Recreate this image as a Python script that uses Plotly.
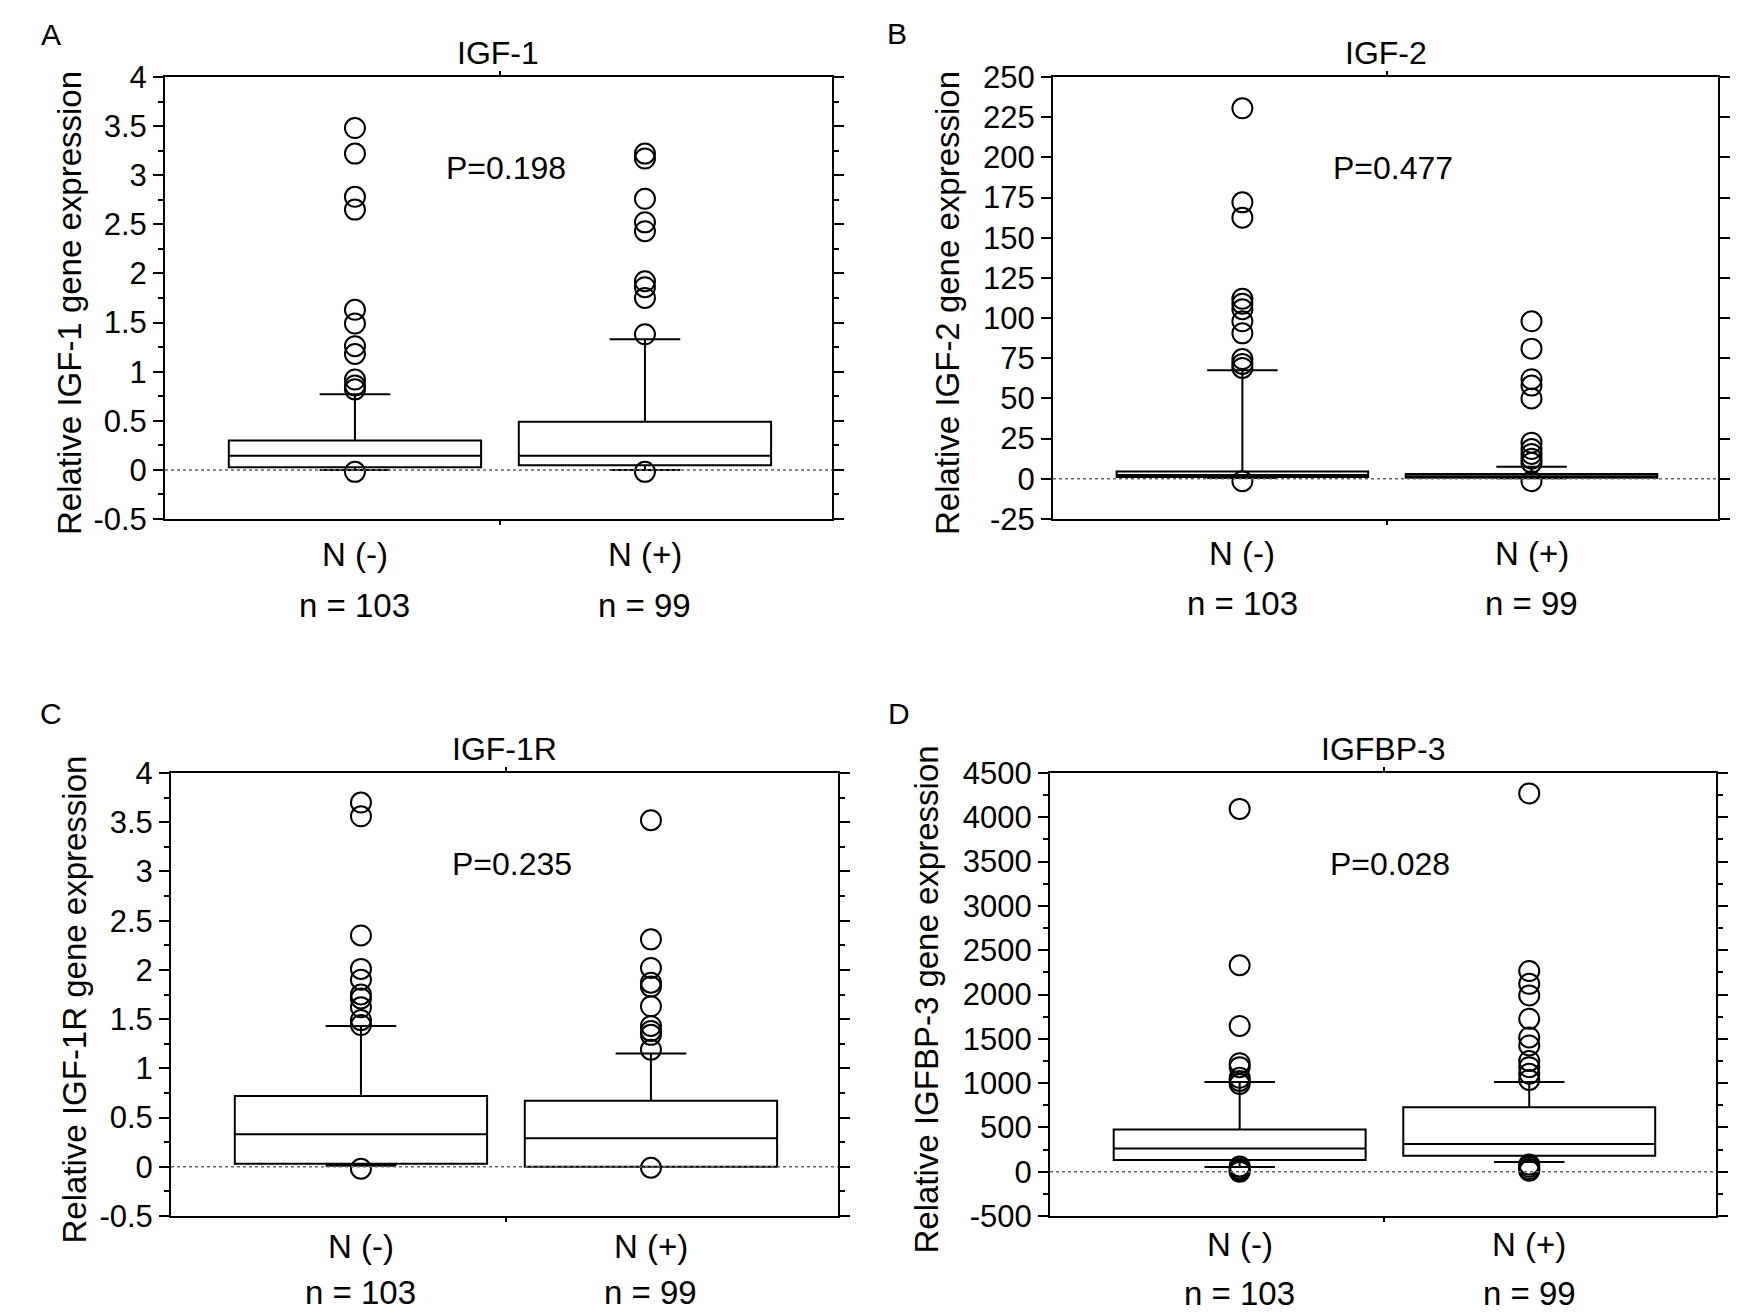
import plotly.graph_objects as go
from plotly.subplots import make_subplots

W, H = 1748, 1313
FONT = "Liberation Sans, Arial, sans-serif"

groups = ["N (-)", "N (+)"]
group_sizes = [103, 99]
p_values = ["P=0.198", "P=0.477", "P=0.235", "P=0.028"]

# box stats per group: lower whisker, Q1, median, Q3, upper whisker
igf1_neg = [0.0, 0.027, 0.144, 0.30, 0.77]
igf1_pos = [0.0, 0.047, 0.144, 0.49, 1.33]
igf1_neg_out = [3.48, 3.22, 2.78, 2.65, 1.63, 1.49, 1.26, 1.18, 0.92, 0.86, 0.82, -0.02]
igf1_pos_out = [3.22, 3.17, 2.76, 2.52, 2.43, 1.92, 1.86, 1.75, 1.38, -0.02]

igf2_neg = [0.5, 1.2, 2.4, 4.6, 67.5]
igf2_pos = [0.3, 0.7, 1.6, 3.0, 7.5]
igf2_neg_out = [230.5, 172.0, 162.5, 112.0, 109.0, 105.5, 98.0, 90.5, 74.5, 71.5, 69.0, -1.5]
igf2_pos_out = [98.0, 81.0, 62.0, 58.0, 50.0, 22.5, 18.5, 15.5, 12.5, 10.0, -1.5]

igf1r_neg = [0.01, 0.03, 0.33, 0.72, 1.43]
igf1r_pos = [0.0, 0.0, 0.29, 0.67, 1.15]
igf1r_neg_out = [3.70, 3.56, 2.35, 2.01, 1.90, 1.75, 1.71, 1.62, 1.49, 1.44, -0.02]
igf1r_pos_out = [3.52, 2.31, 2.02, 1.87, 1.83, 1.63, 1.43, 1.38, 1.34, 1.19, -0.01]

igfbp3_neg = [52, 133, 262, 476, 1013]
igfbp3_pos = [109, 181, 314, 728, 1013]
igfbp3_neg_out = [4095, 2330, 1645, 1225, 1180, 1060, 1025, 990, 60, 35, 15, 0]
igfbp3_pos_out = [4270, 2265, 2120, 1990, 1725, 1515, 1425, 1250, 1180, 1105, 1035,
                  80, 55, 30, 10]

panels = [
    dict(letter="A", title="IGF-1", ytitle="Relative IGF-1 gene expression",
         stats=[igf1_neg, igf1_pos], out=[igf1_neg_out, igf1_pos_out],
         yrange=[-0.5, 4], dtick=0.5, minor=0.25),
    dict(letter="B", title="IGF-2", ytitle="Relative IGF-2 gene expression",
         stats=[igf2_neg, igf2_pos], out=[igf2_neg_out, igf2_pos_out],
         yrange=[-25, 250], dtick=25, minor=None),
    dict(letter="C", title="IGF-1R", ytitle="Relative IGF-1R gene expression",
         stats=[igf1r_neg, igf1r_pos], out=[igf1r_neg_out, igf1r_pos_out],
         yrange=[-0.5, 4], dtick=0.5, minor=0.25),
    dict(letter="D", title="IGFBP-3", ytitle="Relative IGFBP-3 gene expression",
         stats=[igfbp3_neg, igfbp3_pos], out=[igfbp3_neg_out, igfbp3_pos_out],
         yrange=[-500, 4500], dtick=500, minor=250),
]

# pixel layout of each panel: plot box (left, right, top, bottom),
# panel letter position, y-title x, label offsets below the axis
boxes = [(157, 824, 69, 511), (1045, 1710, 69, 511),
         (163, 830, 765, 1208), (1042, 1708, 765, 1208)]
letters_px = [(43, 27), (889, 25), (43, 705), (891, 705)]
ytitle_x = [61, 939, 66, 918]
label_shift = [(-35, -86), (-34, -84), (-30, -76), (-28, -77)]

fig = make_subplots(rows=2, cols=2)
annotations = []

for k, pnl in enumerate(panels):
    r, c = k // 2 + 1, k % 2 + 1
    xs = "" if k == 0 else str(k + 1)
    left, right, top, bottom = boxes[k]
    xd = [left / W, right / W]
    yd = [1 - bottom / H, 1 - top / H]

    for i, (s, o) in enumerate(zip(pnl["stats"], pnl["out"])):
        fig.add_trace(go.Box(
            x=[i], lowerfence=[s[0]], q1=[s[1]], median=[s[2]], q3=[s[3]],
            upperfence=[s[4]], width=0.87, whiskerwidth=0.28, boxpoints=False,
            fillcolor="white", line=dict(color="black", width=2),
            showlegend=False, hoverinfo="skip"), row=r, col=c)
        fig.add_trace(go.Scatter(
            x=[i] * len(o), y=o, mode="markers", showlegend=False,
            marker=dict(symbol="circle-open", size=20, color="black",
                        line=dict(width=2, color="black"))), row=r, col=c)

    fig.add_hline(y=0, line=dict(color="#666666", width=1.5, dash="dot"),
                  row=r, col=c)

    lo, hi = pnl["yrange"]
    n_ticks = int(round((hi - lo) / pnl["dtick"])) + 1
    tickvals = [lo + j * pnl["dtick"] for j in range(n_ticks)]
    ticktext = [f"{v:g}" for v in tickvals]

    yaxis = dict(domain=yd, range=[lo, hi], tickvals=tickvals, ticktext=ticktext,
                 ticks="outside", ticklen=10, tickwidth=2, tickcolor="black",
                 showline=True, linewidth=2, linecolor="black", mirror="allticks",
                 showgrid=False, zeroline=False, automargin=False,
                 tickfont=dict(size=31, color="black", family=FONT))
    if pnl["minor"]:
        yaxis["minor"] = dict(dtick=pnl["minor"], tick0=0, ticks="outside",
                              ticklen=5, tickwidth=1.5, tickcolor="black",
                              showgrid=False)
    xaxis = dict(domain=xd, range=[-0.655, 1.645], tickvals=[0.5], ticktext=[""],
                 ticks="outside", ticklen=4, tickwidth=2, tickcolor="black",
                 showline=True, linewidth=2, linecolor="black", mirror="allticks",
                 showgrid=False, zeroline=False, showticklabels=False,
                 automargin=False)
    fig.update_layout({"xaxis" + xs: xaxis, "yaxis" + xs: yaxis})

    xref, yref = "x" + xs, "y" + xs
    xdom_ref, ydom_ref = xref + " domain", yref + " domain"

    def font(size):
        return dict(size=size, color="black", family=FONT)

    annotations.append(dict(text=pnl["letter"], xref="paper", yref="paper",
                            x=letters_px[k][0] / W, y=1 - letters_px[k][1] / H,
                            xanchor="center", yanchor="middle", showarrow=False,
                            font=font(30)))
    annotations.append(dict(text=pnl["title"], xref=xdom_ref, yref=ydom_ref,
                            x=0.5, y=1, yshift=24, xanchor="center",
                            yanchor="middle", showarrow=False, font=font(32)))
    annotations.append(dict(text=p_values[k], xref=xref, yref=ydom_ref,
                            x=0.5, y=0.795, xshift=6, xanchor="center",
                            yanchor="middle", showarrow=False, font=font(32)))
    annotations.append(dict(text=pnl["ytitle"], xref="paper", yref=ydom_ref,
                            x=ytitle_x[k] / W, y=0.5, yshift=-5, textangle=-90,
                            xanchor="center", yanchor="middle", showarrow=False,
                            font=font(33)))
    for i, (g, n) in enumerate(zip(groups, group_sizes)):
        annotations.append(dict(text=g, xref=xref, yref=ydom_ref, x=i, y=0,
                                yshift=label_shift[k][0], xanchor="center",
                                yanchor="middle", showarrow=False, font=font(33)))
        annotations.append(dict(text=f"n = {n}", xref=xref, yref=ydom_ref, x=i,
                                y=0, yshift=label_shift[k][1], xanchor="center",
                                yanchor="middle", showarrow=False, font=font(33)))

fig.update_layout(width=W, height=H, margin=dict(l=0, r=0, t=0, b=0),
                  paper_bgcolor="white", plot_bgcolor="white",
                  font=dict(family=FONT, color="black"),
                  annotations=annotations, showlegend=False)

fig.write_html("out.html")
